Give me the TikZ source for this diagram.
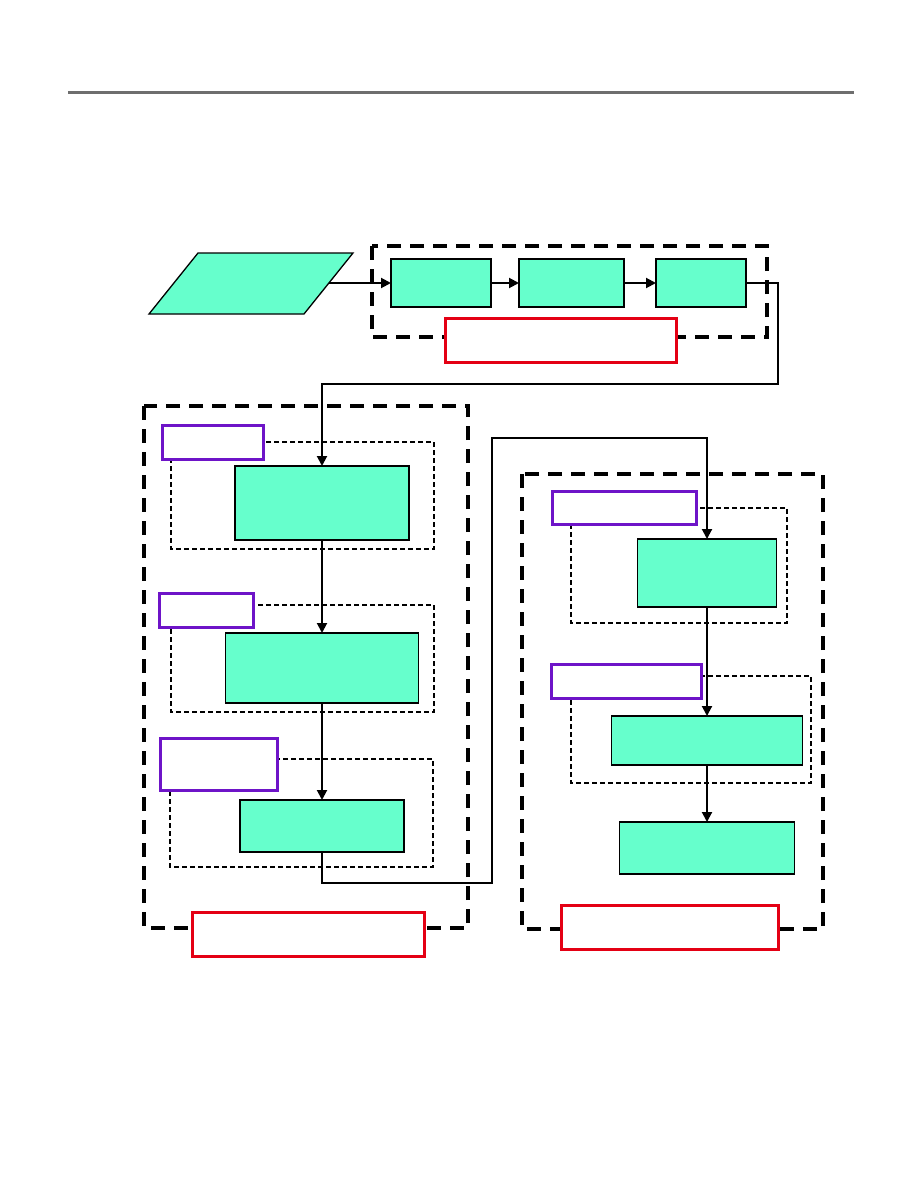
\documentclass[tikz,border=0pt]{standalone}
\usepackage{xcolor}
\usepackage{tikz}
\usetikzlibrary{arrows.meta, positioning, shapes.geometric, calc}

\definecolor{boxgreen}{RGB}{102,255,204}
\definecolor{tagpurple}{RGB}{110,20,200}
\definecolor{tagred}{RGB}{228,0,20}
\definecolor{rulegray}{RGB}{110,110,110}

\begin{document}
\begin{tikzpicture}[x=1pt, y=-1pt,
    gbox/.style={draw, line width=1.3pt, fill=boxgreen, inner sep=0pt, outer sep=0pt},
    ptag/.style={draw=tagpurple, line width=3pt, fill=white, inner sep=0pt, outer sep=0pt},
    rtag/.style={draw=tagred, line width=3pt, fill=white, inner sep=0pt, outer sep=0pt},
    frame/.style={line width=3.4pt, dash pattern=on 14pt off 9pt},
    subframe/.style={line width=1.3pt, dash pattern=on 5pt off 3pt},
    arr/.style={-{Triangle[length=10pt, width=10pt]}, line width=2pt}]
  \useasboundingbox (0,0) rectangle (918,1188);
  % header rule
  \draw[rulegray, line width=3pt] (68,93) -- (854,93);
  % group frames
  \draw[frame] (372,246) rectangle (767,337);
  \draw[frame] (144,406) rectangle (468,928);
  \draw[frame] (522,474) rectangle (823,929);
  % stage frames
  \draw[subframe] (171,442) rectangle (434,549);
  \draw[subframe] (171,605) rectangle (434,712);
  \draw[subframe] (170,759) rectangle (433,867);
  \draw[subframe] (571,508) rectangle (787,623);
  \draw[subframe] (571,676) rectangle (811,783);
  % input and top chain
  \draw[line width=1.3pt, fill=boxgreen] (198,253) -- (353,253) -- (304,314) -- (149,314) -- cycle;
  \coordinate (in) at (329,283);
  \node[gbox, minimum width=100pt, minimum height=48pt] (pre1) at (441,283) {};
  \node[gbox, minimum width=105pt, minimum height=48pt] (pre2) at (571.5,283) {};
  \node[gbox, minimum width=90pt, minimum height=48pt] (pre3) at (701,283) {};
  \node[rtag, minimum width=231pt, minimum height=44pt] (tagtop) at (560.5,340) {};
  % left column
  \node[gbox, minimum width=174pt, minimum height=74pt] (l1) at (322,503) {};
  \node[gbox, minimum width=193pt, minimum height=70pt] (l2) at (322,668) {};
  \node[gbox, minimum width=164pt, minimum height=52pt] (l3) at (322,826) {};
  \node[ptag, minimum width=101pt, minimum height=34pt] (pl1) at (212.5,442) {};
  \node[ptag, minimum width=94pt, minimum height=34pt] (pl2) at (206,610) {};
  \node[ptag, minimum width=117pt, minimum height=52pt] (pl3) at (218.5,764) {};
  \node[rtag, minimum width=232pt, minimum height=44pt] (tagleft) at (308,934) {};
  % right column
  \node[gbox, minimum width=139pt, minimum height=68pt] (r1) at (707,573) {};
  \node[gbox, minimum width=191pt, minimum height=49pt] (r2) at (707,740.5) {};
  \node[gbox, minimum width=175pt, minimum height=52pt] (r3) at (707,848) {};
  \node[ptag, minimum width=144pt, minimum height=33pt] (pr1) at (624,507.5) {};
  \node[ptag, minimum width=150pt, minimum height=34pt] (pr2) at (626,681) {};
  \node[rtag, minimum width=217pt, minimum height=44pt] (tagright) at (669.5,927) {};
  % connectors
  \coordinate (turn1) at (778,384);
  \coordinate (turn2) at (492,883);
  \coordinate (turn3) at (492,438);
  \draw[arr] (in) -- (pre1.west);
  \draw[arr] (pre1.east) -- (pre2.west);
  \draw[arr] (pre2.east) -- (pre3.west);
  \draw[arr] (pre3.east) -| (turn1) -| (l1.north);
  \draw[arr] (l1.south) -- (l2.north);
  \draw[arr] (l2.south) -- (l3.north);
  \draw[arr] (l3.south) |- (turn2) -- (turn3) -| (r1.north);
  \draw[arr] (r1.south) -- (r2.north);
  \draw[arr] (r2.south) -- (r3.north);
\end{tikzpicture}
\end{document}
